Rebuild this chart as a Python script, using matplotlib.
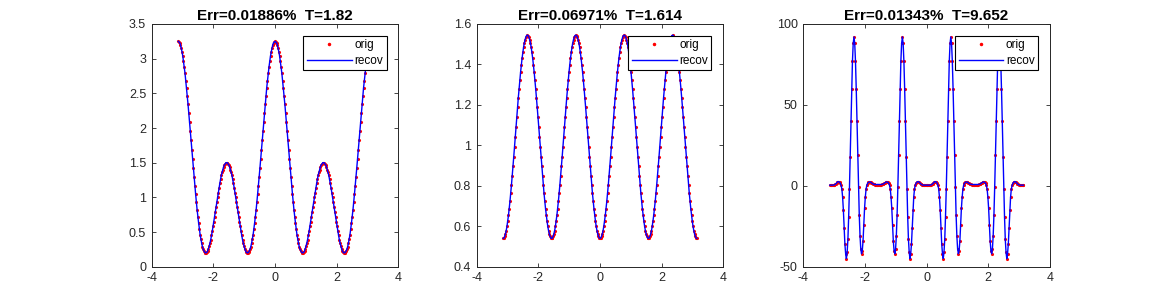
import numpy as np
import matplotlib
matplotlib.use("Agg")
from matplotlib import pyplot as plt

plt.rcParams['font.family'] = ['Liberation Sans', 'DejaVu Sans']
plt.rcParams['axes.unicode_minus'] = False

# sample grid, -pi..pi
x = np.linspace(-np.pi, np.pi, 257)

# values (orig and recov coincide at this scale)
y1 = [3.25, 3.24, 3.23, 3.20, 3.15, 3.10, 3.04, 2.96,
      2.88, 2.79, 2.68, 2.58, 2.46, 2.34, 2.21, 2.08,
      1.95, 1.82, 1.69, 1.55, 1.42, 1.29, 1.17, 1.05,
      0.93, 0.82, 0.72, 0.63, 0.54, 0.46, 0.40, 0.34,
      0.29, 0.25, 0.23, 0.21, 0.20, 0.20, 0.21, 0.23,
      0.26, 0.30, 0.34, 0.39, 0.45, 0.51, 0.58, 0.64,
      0.71, 0.79, 0.86, 0.93, 1.00, 1.07, 1.14, 1.20,
      1.26, 1.32, 1.36, 1.40, 1.44, 1.47, 1.48, 1.50,
      1.50,
      1.50, 1.48, 1.47, 1.44, 1.40, 1.36, 1.32, 1.26,
      1.20, 1.14, 1.07, 1.00, 0.93, 0.86, 0.79, 0.71,
      0.64, 0.58, 0.51, 0.45, 0.39, 0.34, 0.30, 0.26,
      0.23, 0.21, 0.20, 0.20, 0.21, 0.23, 0.25, 0.29,
      0.34, 0.40, 0.46, 0.54, 0.63, 0.72, 0.82, 0.93,
      1.05, 1.17, 1.29, 1.42, 1.55, 1.69, 1.82, 1.95,
      2.08, 2.21, 2.34, 2.46, 2.58, 2.68, 2.79, 2.88,
      2.96, 3.04, 3.10, 3.15, 3.20, 3.23, 3.24, 3.25,
      3.24, 3.23, 3.20, 3.15, 3.10, 3.04, 2.96, 2.88,
      2.79, 2.68, 2.58, 2.46, 2.34, 2.21, 2.08, 1.95,
      1.82, 1.69, 1.55, 1.42, 1.29, 1.17, 1.05, 0.93,
      0.82, 0.72, 0.63, 0.54, 0.46, 0.40, 0.34, 0.29,
      0.25, 0.23, 0.21, 0.20, 0.20, 0.21, 0.23, 0.26,
      0.30, 0.34, 0.39, 0.45, 0.51, 0.58, 0.64, 0.71,
      0.79, 0.86, 0.93, 1.00, 1.07, 1.14, 1.20, 1.26,
      1.32, 1.36, 1.40, 1.44, 1.47, 1.48, 1.50, 1.50,
      1.50, 1.48, 1.47, 1.44, 1.40, 1.36, 1.32, 1.26,
      1.20, 1.14, 1.07, 1.00, 0.93, 0.86, 0.79, 0.71,
      0.64, 0.58, 0.51, 0.45, 0.39, 0.34, 0.30, 0.26,
      0.23, 0.21, 0.20, 0.20, 0.21, 0.23, 0.25, 0.29,
      0.34, 0.40, 0.46, 0.54, 0.63, 0.72, 0.82, 0.93,
      1.05, 1.17, 1.29, 1.42, 1.55, 1.69, 1.82, 1.95,
      2.08, 2.21, 2.34, 2.46, 2.58, 2.68, 2.79, 2.88,
      2.96, 3.04, 3.10, 3.15, 3.20, 3.23, 3.24, 3.25]

y2 = [0.540, 0.542, 0.550, 0.562, 0.578, 0.599, 0.625, 0.654,
      0.687, 0.724, 0.763, 0.806, 0.850, 0.897, 0.944, 0.993,
      1.042, 1.092, 1.140, 1.188, 1.235, 1.279, 1.322, 1.361,
      1.398, 1.431, 1.460, 1.486, 1.507, 1.523, 1.535, 1.543,
      1.545,
      1.543, 1.535, 1.523, 1.507, 1.486, 1.460, 1.431, 1.398,
      1.361, 1.322, 1.279, 1.235, 1.188, 1.140, 1.092, 1.042,
      0.993, 0.944, 0.897, 0.850, 0.806, 0.763, 0.724, 0.687,
      0.654, 0.625, 0.599, 0.578, 0.562, 0.550, 0.542, 0.540,
      0.542, 0.550, 0.562, 0.578, 0.599, 0.625, 0.654, 0.687,
      0.724, 0.763, 0.806, 0.850, 0.897, 0.944, 0.993, 1.042,
      1.092, 1.140, 1.188, 1.235, 1.279, 1.322, 1.361, 1.398,
      1.431, 1.460, 1.486, 1.507, 1.523, 1.535, 1.543, 1.545,
      1.543, 1.535, 1.523, 1.507, 1.486, 1.460, 1.431, 1.398,
      1.361, 1.322, 1.279, 1.235, 1.188, 1.140, 1.092, 1.042,
      0.993, 0.944, 0.897, 0.850, 0.806, 0.763, 0.724, 0.687,
      0.654, 0.625, 0.599, 0.578, 0.562, 0.550, 0.542, 0.540,
      0.542, 0.550, 0.562, 0.578, 0.599, 0.625, 0.654, 0.687,
      0.724, 0.763, 0.806, 0.850, 0.897, 0.944, 0.993, 1.042,
      1.092, 1.140, 1.188, 1.235, 1.279, 1.322, 1.361, 1.398,
      1.431, 1.460, 1.486, 1.507, 1.523, 1.535, 1.543, 1.545,
      1.543, 1.535, 1.523, 1.507, 1.486, 1.460, 1.431, 1.398,
      1.361, 1.322, 1.279, 1.235, 1.188, 1.140, 1.092, 1.042,
      0.993, 0.944, 0.897, 0.850, 0.806, 0.763, 0.724, 0.687,
      0.654, 0.625, 0.599, 0.578, 0.562, 0.550, 0.542, 0.540,
      0.542, 0.550, 0.562, 0.578, 0.599, 0.625, 0.654, 0.687,
      0.724, 0.763, 0.806, 0.850, 0.897, 0.944, 0.993, 1.042,
      1.092, 1.140, 1.188, 1.235, 1.279, 1.322, 1.361, 1.398,
      1.431, 1.460, 1.486, 1.507, 1.523, 1.535, 1.543, 1.545,
      1.543, 1.535, 1.523, 1.507, 1.486, 1.460, 1.431, 1.398,
      1.361, 1.322, 1.279, 1.235, 1.188, 1.140, 1.092, 1.042,
      0.993, 0.944, 0.897, 0.850, 0.806, 0.763, 0.724, 0.687,
      0.654, 0.625, 0.599, 0.578, 0.562, 0.550, 0.542, 0.540]

y3 = [0.4, 0.4, 0.4, 0.4, 0.4, 0.5, 0.6, 0.9, 1.2, 1.8, 2.3, 2.6, 2.5, 2.2, 1.5, 0.3,
      -2, -7, -15, -26, -36, -42, -45, -41, -33, -19, -2, 18, 40, 60, 77, 88,
      92,
      88, 77, 60, 40, 19, -1, -18, -31, -39, -42, -40, -34, -24, -14, -7, -2,
      0.3, 1.5, 2.1, 2.3, 2.4, 2.2, 1.9, 1.5, 1.2, 1.0, 0.9, 0.8, 0.8, 0.8, 0.8, 0.8,
      0.8, 0.8, 0.8, 0.8, 0.9, 1.0, 1.2, 1.5, 1.9, 2.2, 2.4, 2.3, 2.1, 1.5, 0.3,
      -2, -7, -14, -24, -34, -40, -42, -39, -31, -18, -1, 19, 40, 60, 77, 88,
      92,
      88, 77, 60, 40, 18, -2, -19, -33, -41, -45, -42, -36, -26, -15, -7, -2,
      0.3, 1.5, 2.2, 2.5, 2.6, 2.3, 1.8, 1.2, 0.9, 0.6, 0.5, 0.4, 0.4, 0.4, 0.4, 0.4,
      0.4, 0.4, 0.4, 0.4, 0.5, 0.6, 0.9, 1.2, 1.8, 2.3, 2.6, 2.5, 2.2, 1.5, 0.3,
      -2, -7, -15, -26, -36, -42, -45, -41, -33, -19, -2, 18, 40, 60, 77, 88,
      92,
      88, 77, 60, 40, 19, -1, -18, -31, -39, -42, -40, -34, -24, -14, -7, -2,
      0.3, 1.5, 2.1, 2.3, 2.4, 2.2, 1.9, 1.5, 1.2, 1.0, 0.9, 0.8, 0.8, 0.8, 0.8, 0.8,
      0.8, 0.8, 0.8, 0.8, 0.9, 1.0, 1.2, 1.5, 1.9, 2.2, 2.4, 2.3, 2.1, 1.5, 0.3,
      -2, -7, -14, -24, -34, -40, -42, -39, -31, -18, -1, 19, 40, 60, 77, 88,
      92,
      88, 77, 60, 40, 18, -2, -19, -33, -41, -45, -42, -36, -26, -15, -7, -2,
      0.3, 1.5, 2.2, 2.5, 2.6, 2.3, 1.8, 1.2, 0.9, 0.6, 0.5, 0.4, 0.4, 0.4, 0.4, 0.4]

titles = ["Err=0.01886%  T=1.82", "Err=0.06971%  T=1.614", "Err=0.01343%  T=9.652"]
xtick_vals = [-4, -2, 0, 2, 4]
xtick_labels = ["-4", "-2", "0", "2", "4"]
ytick_vals = [[0, 0.5, 1, 1.5, 2, 2.5, 3, 3.5],
              [0.4, 0.6, 0.8, 1.0, 1.2, 1.4, 1.6],
              [-50, 0, 50, 100]]
ytick_labels = [["0", "0.5", "1", "1.5", "2", "2.5", "3", "3.5"],
                ["0.4", "0.6", "0.8", "1", "1.2", "1.4", "1.6"],
                ["-50", "0", "50", "100"]]
ylims = [(0, 3.5), (0.4, 1.6), (-50, 100)]

fig = plt.figure(figsize=(11.61, 3.0), dpi=100)
lefts = [0.1307, 0.4106, 0.6919]
gray = '#262626'

for i, y in enumerate([y1, y2, y3]):
    ax = fig.add_axes([lefts[i], 0.111, 0.2124, 0.809])
    ax.plot(x, y, '.', color='red', markersize=2.5, label='orig')
    ax.plot(x, y, '-', color='blue', linewidth=1, label='recov')
    ax.set_xlim(-4, 4)
    ax.set_ylim(*ylims[i])
    ax.set_xticks(xtick_vals)
    ax.set_xticklabels(xtick_labels)
    ax.set_yticks(ytick_vals[i])
    ax.set_yticklabels(ytick_labels[i])
    ax.tick_params(direction='in', length=3, width=0.6, top=True, right=True,
                   labelsize=9, colors=gray, pad=4)
    for s in ax.spines.values():
        s.set_color(gray)
        s.set_linewidth(0.7)
    ax.set_title(titles[i], fontsize=11, fontweight='bold', color='black', pad=3)
    leg = ax.legend(loc='upper right', fancybox=False, edgecolor='black', framealpha=1,
                    fontsize=8.5, handlelength=3.8, borderpad=0.3, labelspacing=0.3,
                    handletextpad=0.2, borderaxespad=1.0, markerscale=1.2)
    leg.get_frame().set_linewidth(0.8)

fig.savefig("out.png", dpi=100)
